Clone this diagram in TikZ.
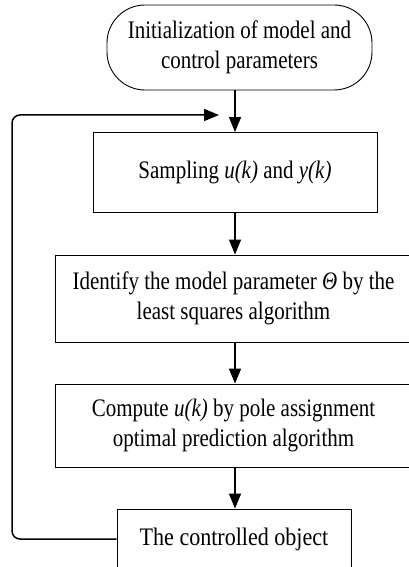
\documentclass[tikz,border=0pt]{standalone}
\usepackage{fontspec}
\setmainfont{Liberation Serif}
\usetikzlibrary{arrows.meta}
\newcommand{\stretchtxt}[2][1]{\scalebox{#1}[1.2]{\begin{tabular}{@{}c@{}}#2\end{tabular}}}
\begin{document}
\begin{tikzpicture}[x=1pt,y=-1pt,
  box/.style={draw=black,line width=0.9pt,rectangle,align=center,inner sep=0pt,
    font=\fontsize{21}{25}\selectfont},
  flow/.style={line width=1.5pt,-{Triangle[length=15pt,width=12pt]}}]
\useasboundingbox (0,0) rectangle (409,567);
\clip (0,0) rectangle (409,567);
\node[box,rounded corners=38pt,minimum width=265pt,minimum height=85pt] (init) at (239.5,47.5)
  {\stretchtxt{Initialization of model and\\control parameters}};
\node[box,minimum width=284pt,minimum height=80pt] (samp) at (235,172.5)
  {\stretchtxt{Sampling \textit{u(k)} and \textit{y(k)}}};
\node[box,minimum width=357pt,minimum height=87pt] (ident) at (233.5,298.5)
  {\stretchtxt{Identify the model parameter \textit{Θ} by the\\least squares algorithm}};
\node[box,minimum width=357pt,minimum height=83pt] (comp) at (233.5,425.5)
  {\stretchtxt{Compute \textit{u(k)} by pole assignment\\optimal prediction algorithm}};
\node[box,minimum width=234pt,minimum height=60pt] (obj) at (234,539)
  {\stretchtxt[1.05]{The controlled object}};
\coordinate (fb) at (219,115);
\draw[flow] (init.south -| samp.north) -- (samp.north);
\draw[flow] (samp.south) -- (samp.south |- ident.north);
\draw[flow] (ident.south -| samp.south) -- (samp.south |- comp.north);
\draw[flow] (comp.south -| samp.south) -- (samp.south |- obj.north);
\draw[flow,rounded corners=8pt] (obj.west) -- (12,539) -- (12,115) -- (fb);
\end{tikzpicture}
\end{document}
